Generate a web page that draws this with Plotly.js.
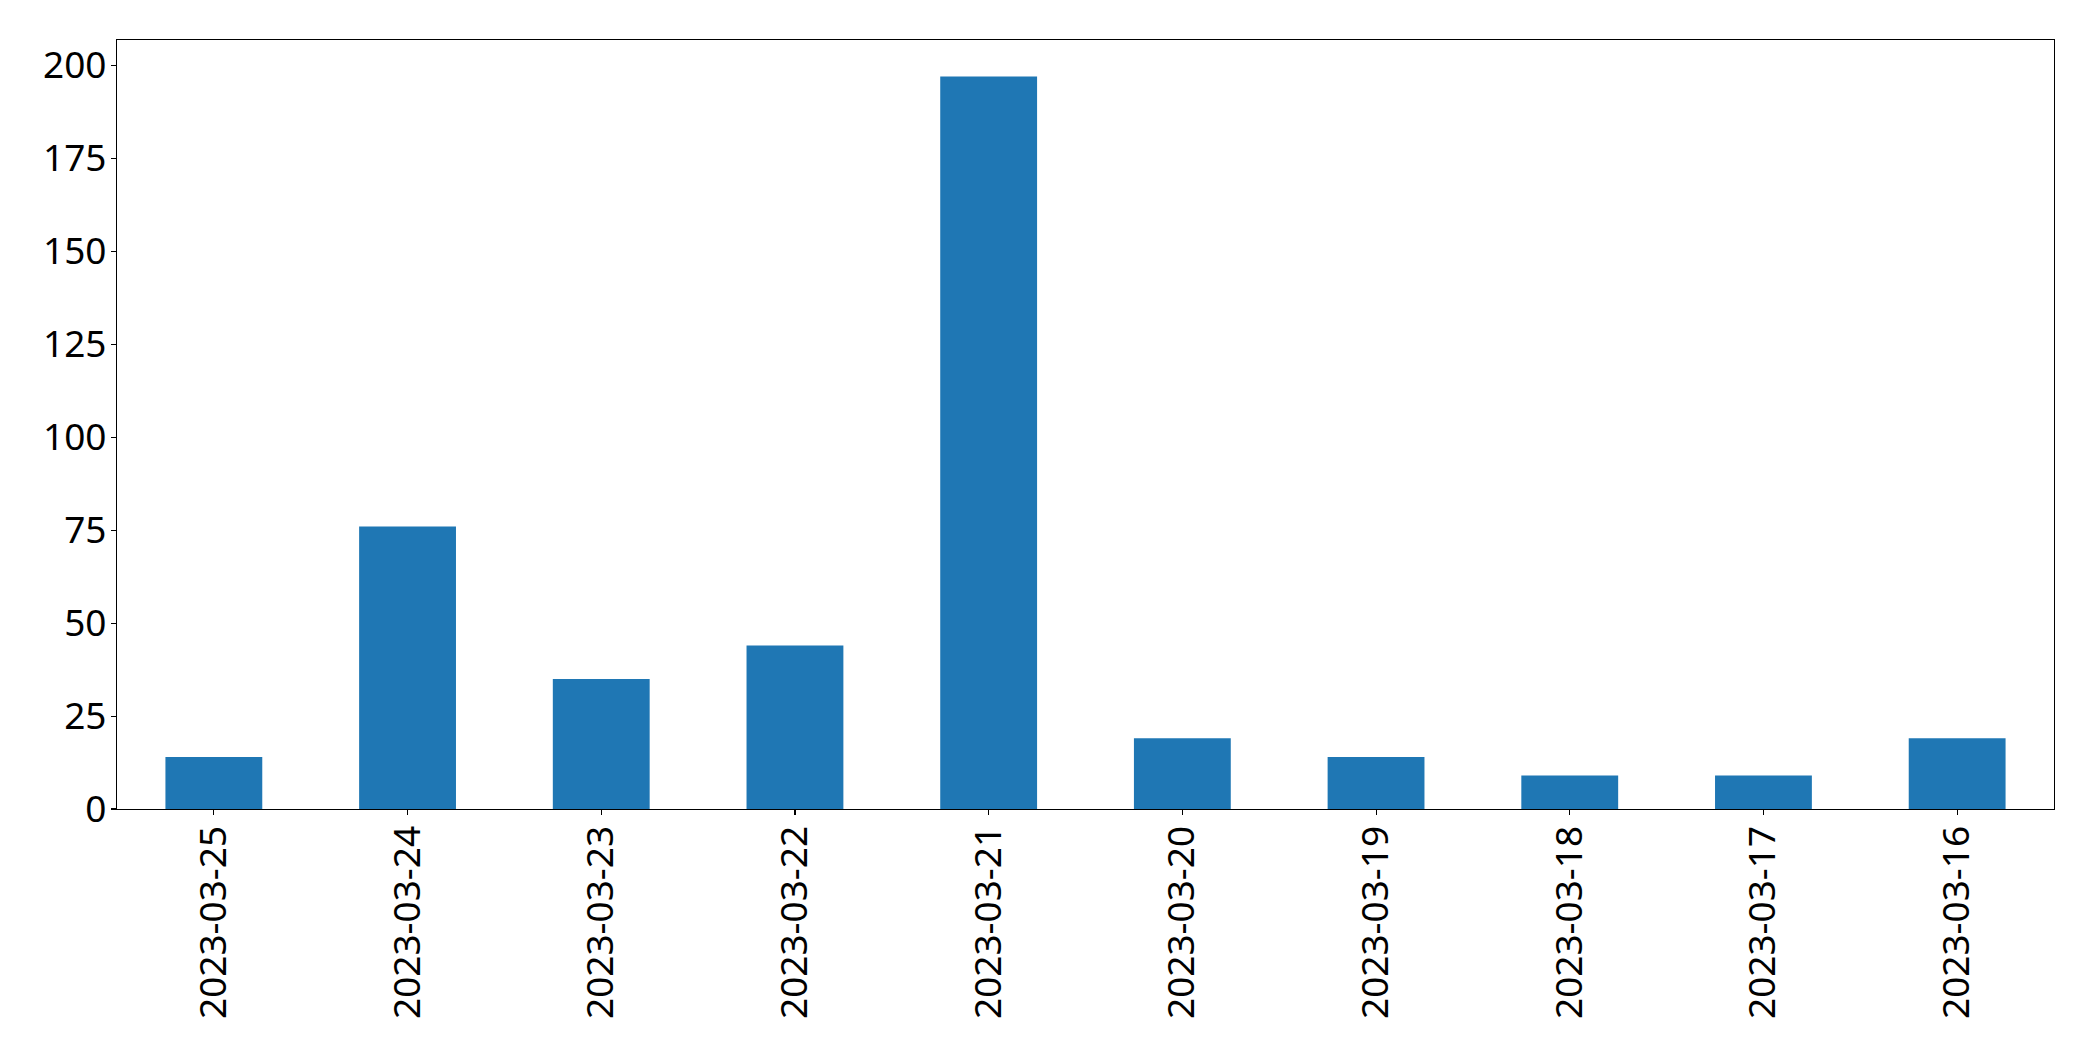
<!DOCTYPE html>
<html>
<head>
<meta charset="utf-8">
<script src="https://cdn.plot.ly/plotly-3.0.1.min.js"></script>
<style>html,body{margin:0;padding:0;background:#fff;}#chart{width:2093px;height:1061px;}</style>
</head>
<body>
<div id="chart"></div>
<script>
const dates = ["2023-03-25","2023-03-24","2023-03-23","2023-03-22","2023-03-21","2023-03-20","2023-03-19","2023-03-18","2023-03-17","2023-03-16"];
const counts = [14, 76, 35, 44, 197, 19, 14, 9, 9, 19];
const yTicks = [0, 25, 50, 75, 100, 125, 150, 175, 200];

const font = {family: "Noto Sans, Open Sans, sans-serif", size: 37, color: "#000"};
const trace = {
  type: "bar",
  x: dates,
  y: counts,
  width: 0.5,
  marker: {color: "#1f77b4", line: {width: 0}},
  hoverinfo: "x+y"
};
const layout = {
  width: 2093, height: 1061,
  margin: {l: 116.5, r: 39, t: 39.5, b: 252, pad: 0},
  paper_bgcolor: "#fff", plot_bgcolor: "#fff",
  showlegend: false,
  font: font,
  xaxis: {
    type: "category",
    range: [-0.5, 9.5],
    tickangle: -90,
    ticks: "outside", ticklen: 5, tickwidth: 1.1, tickcolor: "#000",
    ticklabelstandoff: -4,
    showline: true, linecolor: "#000", linewidth: 1.1, mirror: true,
    showgrid: false, zeroline: false, automargin: false,
    tickfont: font
  },
  yaxis: {
    range: [0, 206.85],
    tickmode: "array", tickvals: yTicks, ticktext: yTicks.map(String),
    ticks: "outside", ticklen: 5, tickwidth: 1.1, tickcolor: "#000",
    ticklabelstandoff: -3,
    showline: true, linecolor: "#000", linewidth: 1.1, mirror: true,
    showgrid: false, zeroline: false, automargin: false,
    tickfont: font
  }
};
Plotly.newPlot("chart", [trace], layout, {displayModeBar: false, staticPlot: true});
</script>
</body>
</html>
